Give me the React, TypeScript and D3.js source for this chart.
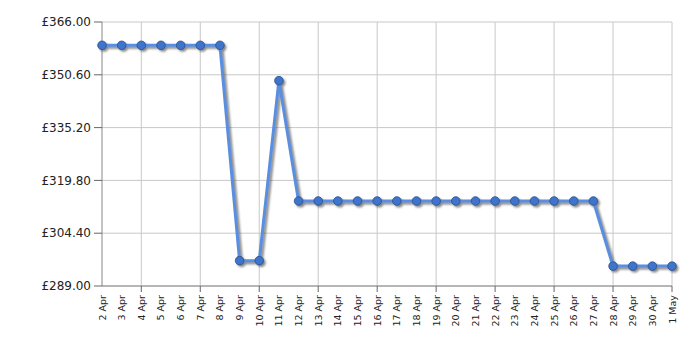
import React from "react";
import * as d3 from "d3";

const dates = ["2 Apr","3 Apr","4 Apr","5 Apr","6 Apr","7 Apr","8 Apr","9 Apr","10 Apr","11 Apr","12 Apr","13 Apr","14 Apr","15 Apr","16 Apr","17 Apr","18 Apr","19 Apr","20 Apr","21 Apr","22 Apr","23 Apr","24 Apr","25 Apr","26 Apr","27 Apr","28 Apr","29 Apr","30 Apr","1 May"];
const prices = [359.2,359.2,359.2,359.2,359.2,359.2,359.2,296.4,296.4,348.9,313.8,313.8,313.8,313.8,313.8,313.8,313.8,313.8,313.8,313.8,313.8,313.8,313.8,313.8,313.8,313.8,294.8,294.8,294.8,294.8];
const yTicks = [289.0, 304.4, 319.8, 335.2, 350.6, 366.0];

export default function App() {
  const W = 700, H = 350;
  const left = 102, right = 672, top = 22, bottom = 286;
  const x = d3.scaleLinear().domain([0, dates.length - 1]).range([left, right]);
  const y = d3.scaleLinear().domain([289, 366]).range([bottom, top]);
  const line = d3.line<number>().x((_, i) => x(i)).y(d => y(d));
  const majors = dates.map((_, i) => i).filter(i => (dates.length - 1 - i) % 3 === 0);
  const font = "Verdana, 'DejaVu Sans', sans-serif";
  return (
    <svg width={W} height={H} style={{ position: "absolute", left: 0, top: 0 }}>
      <defs>
        <filter id="sh" x="-10%" y="-10%" width="120%" height="130%">
          <feGaussianBlur stdDeviation="0.8" />
        </filter>
      </defs>
      {yTicks.map(t => (
        <line key={"gy" + t} x1={left} x2={right} y1={y(t)} y2={y(t)} stroke="#c8c8c8" strokeWidth={1} />
      ))}
      {majors.map(i => (
        <line key={"gx" + i} x1={x(i)} x2={x(i)} y1={top} y2={bottom} stroke="#c8c8c8" strokeWidth={1} />
      ))}
      <line x1={left} x2={left} y1={top} y2={bottom} stroke="#888" strokeWidth={1} />
      <line x1={left} x2={right} y1={bottom} y2={bottom} stroke="#888" strokeWidth={1} />
      {yTicks.map(t => (
        <g key={"yt" + t}>
          <line x1={left - 8} x2={left} y1={y(t)} y2={y(t)} stroke="#666" />
          <text x={left - 11} y={y(t)} dy="0.35em" textAnchor="end" fontFamily={font} fontSize={12} fill="#222">
            {"£" + t.toFixed(2)}
          </text>
        </g>
      ))}
      {majors.map(i => (
        <line key={"xt" + i} x1={x(i)} x2={x(i)} y1={bottom} y2={bottom + 6} stroke="#666" />
      ))}
      {dates.map((d, i) => (
        <text key={"xl" + i} transform={`translate(${x(i) + 3.5},${bottom + 9}) rotate(-90)`} textAnchor="end" fontFamily={font} fontSize={9.5} fill="#222">
          {d}
        </text>
      ))}
      <g transform="translate(2,2)" filter="url(#sh)" opacity={0.7}>
        <path d={line(prices) || ""} fill="none" stroke="#555" strokeWidth={3} />
        {prices.map((p, i) => <circle key={"s" + i} cx={x(i)} cy={y(p)} r={4.5} fill="#555" />)}
      </g>
      <path d={line(prices) || ""} fill="none" stroke="#5a8ee0" strokeWidth={3} strokeLinejoin="round" />
      {prices.map((p, i) => (
        <circle key={"c" + i} cx={x(i)} cy={y(p)} r={4.3} fill="#3e74cc" stroke="#2a4f8a" strokeWidth={0.8} />
      ))}
    </svg>
  );
}
